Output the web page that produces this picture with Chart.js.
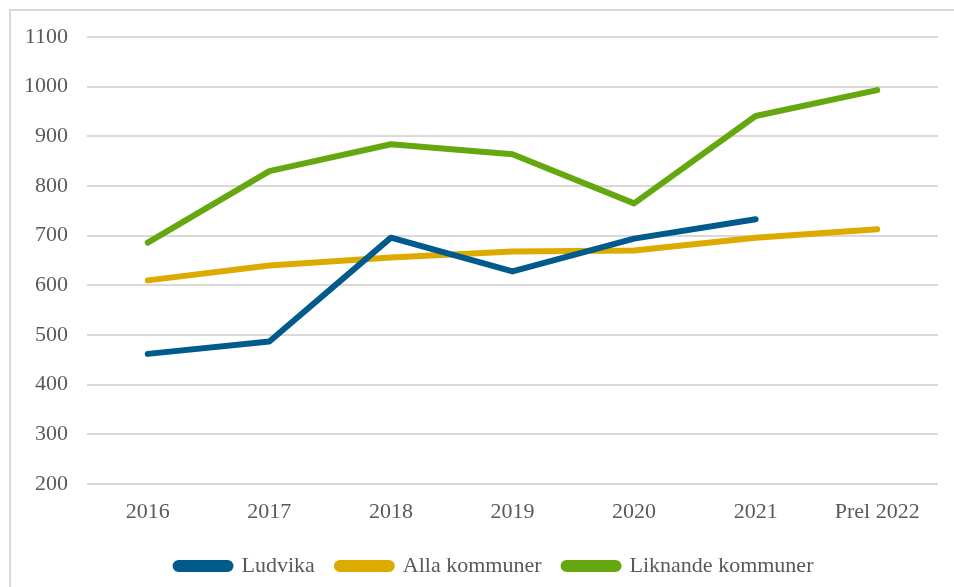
<!DOCTYPE html>
<html>
<head>
<meta charset="utf-8">
<script src="https://cdn.jsdelivr.net/npm/chart.js@4"></script>
<style>
  html, body { margin: 0; padding: 0; background: #fff; overflow: hidden; }
  #ram { position: absolute; left: 9px; top: 9px; width: 1000px; height: 700px; border: 2px solid #d9d9d9; }
  #wrap { position: absolute; left: 11px; top: 11px; width: 943px; height: 576px; }
</style>
</head>
<body>
<div id="ram"></div>
<div id="wrap"><canvas id="graf"></canvas></div>
<script>
document.addEventListener("DOMContentLoaded", function () {

    const ar = ["2016", "2017", "2018", "2019", "2020", "2021", "Prel 2022"];

    const ludvika = [462, 487, 696, 628, 694, 733, null];
    const allaKommuner = [610, 640, 656, 668, 670, 696, 713];
    const liknandeKommuner = [686, 830, 884, 864, 765, 941, 993];

    const yTicks = [200, 300, 400, 500, 600, 700, 800, 900, 1000, 1100];

    const typsnitt = "'Liberation Serif', 'DejaVu Serif', serif";

    // flyttar legenden lite åt höger, som i originalet
    const legendFlytt = {
        id: "legendFlytt",
        afterLayout: function (chart) {
            chart.legend.left += 20;
            chart.legend.right += 20;
        }
    };

    const ctx = document.getElementById("graf");

    new Chart(ctx, {
        type: "line",
        data: {
            labels: ar,
            datasets: [
                {
                    label: "Ludvika",
                    data: ludvika,
                    borderColor: "#005a8c",
                    backgroundColor: "#005a8c",
                    borderWidth: 6,
                    pointRadius: 0,
                    borderCapStyle: "round",
                    borderJoinStyle: "round",
                    tension: 0
                },
                {
                    label: "Alla kommuner",
                    data: allaKommuner,
                    borderColor: "#ddab00",
                    backgroundColor: "#ddab00",
                    borderWidth: 6,
                    pointRadius: 0,
                    borderCapStyle: "round",
                    borderJoinStyle: "round",
                    tension: 0
                },
                {
                    label: "Liknande kommuner",
                    data: liknandeKommuner,
                    borderColor: "#64a70f",
                    backgroundColor: "#64a70f",
                    borderWidth: 6,
                    pointRadius: 0,
                    borderCapStyle: "round",
                    borderJoinStyle: "round",
                    tension: 0
                }
            ]
        },
        options: {
            responsive: true,
            maintainAspectRatio: false,
            animation: false,
            layout: {
                padding: { top: 26, right: 16, left: 0, bottom: 0 }
            },
            plugins: {
                legend: {
                    position: "bottom",
                    labels: {
                        color: "#595959",
                        font: { family: typsnitt, size: 22 },
                        boxWidth: 55,
                        boxHeight: 6,
                        useBorderRadius: true,
                        borderRadius: 3,
                        padding: 22
                    }
                },
                tooltip: { enabled: false }
            },
            scales: {
                x: {
                    offset: true,
                    grid: { display: false },
                    border: { display: false },
                    ticks: {
                        color: "#595959",
                        font: { family: typsnitt, size: 22 },
                        padding: 7,
                        maxRotation: 0
                    },
                    afterFit: function (axis) { axis.height = 49; }
                },
                y: {
                    min: 200,
                    max: 1100,
                    afterBuildTicks: function (axis) {
                        axis.ticks = yTicks.map(function (v) { return { value: v }; });
                    },
                    grid: { color: "#d9d9d9", lineWidth: 2, drawTicks: false },
                    border: { display: false },
                    ticks: {
                        color: "#595959",
                        font: { family: typsnitt, size: 22 },
                        padding: 19,
                        callback: function (v) { return String(v); }
                    },
                    afterFit: function (axis) {
                        axis.width = 76;
                        axis.paddingTop = 0;
                        axis.paddingBottom = 0;
                    }
                }
            }
        },
        plugins: [legendFlytt]
    });

});
</script>
</body>
</html>
